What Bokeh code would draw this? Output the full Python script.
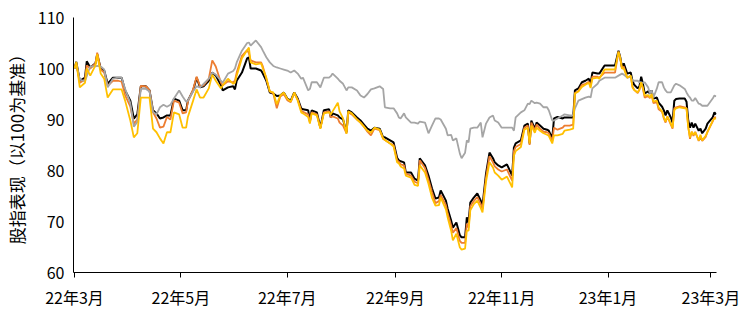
import pandas as pd
from bokeh.plotting import figure
from bokeh.models import FixedTicker, Range1d, ColumnDataSource
from bokeh.embed import file_html
from bokeh.resources import INLINE

start = pd.Timestamp("2022-03-01")

tick_dates = ["2022-03-01", "2022-05-01", "2022-07-01", "2022-09-01",
              "2022-11-01", "2023-01-01", "2023-03-01"]
tick_labels = ["22年3月", "22年5月", "22年7月", "22年9月", "22年11月", "23年1月", "23年3月"]
y_ticks = [60, 70, 80, 90, 100, 110]

# days after 2022-03-01
days = [0, 1, 3, 6, 7, 9, 12, 13, 15, 17,
        19, 22, 25, 27, 29, 32, 34, 36, 38, 41,
        43, 45, 47, 49, 51, 53, 55, 57, 60, 62,
        64, 65, 68, 70, 72, 74, 77, 79, 81, 84,
        85, 88, 91, 92, 93, 96, 99, 100, 101, 104,
        107, 108, 110, 112, 114, 116, 118, 120, 122, 124,
        126, 128, 130, 131, 134, 135, 136, 139, 141, 143,
        146, 147, 148, 151, 152, 154, 156, 157, 159, 162,
        164, 166, 168, 170, 172, 175, 177, 178, 181, 183,
        185, 186, 187, 189, 190, 193, 195, 197, 198, 201,
        203, 205, 207, 209, 210, 213, 214, 216, 217, 219,
        221, 222, 224, 225, 226, 227, 229, 231, 233, 234,
        236, 238, 240, 241, 243, 245, 248, 251, 252, 253,
        256, 258, 260, 261, 262, 264, 265, 267, 269, 271,
        272, 274, 275, 277, 280, 281, 284, 286, 287, 289,
        291, 293, 295, 296, 297, 300, 301, 304, 310, 312,
        313, 314, 315, 317, 319, 320, 321, 323, 324, 325,
        326, 327, 329, 330, 331, 332, 334, 335, 337, 338,
        339, 340, 342, 343, 344, 345, 347, 350, 351, 352,
        353, 354, 355, 356, 358, 359, 360, 362, 363, 366,
        367, 368]

black_s = [100, 101.3, 97.6, 98.2, 101.4, 100.2, 101, 102.8, 100, 99.6,
           97, 98.2, 98.2, 98.2, 95.7, 93.7, 90.2, 91, 96.5, 96.5,
           95.7, 91.8, 91.2, 90.2, 90.4, 90.8, 90.8, 94.1, 93.7, 91.8,
           91.8, 93.7, 95.7, 98.2, 96.3, 96.5, 97.6, 99.2, 98.6, 96.7,
           95.7, 96.3, 96.5, 95.9, 97.6, 99.2, 102, 102.2, 100, 100,
           99.6, 99, 97.6, 95.3, 95.1, 94.6, 94.7, 95.3, 94.1, 93.7,
           95.3, 94.1, 92.2, 92, 91.8, 89.8, 91.8, 91.4, 88.4, 91.8,
           92, 90.4, 91.2, 90.8, 90.4, 90, 87.5, 91.8, 91.4, 90.4,
           89.8, 89, 88.2, 87.8, 88.4, 88.2, 86.5, 86.5, 85.9, 85.5,
           82.5, 82, 81.8, 81.6, 79.6, 79.6, 78.4, 78, 82.4, 81,
           79, 76.5, 74.5, 74.7, 76.1, 74.1, 72.5, 70.2, 68.8, 69.8,
           67.3, 66.9, 66.9, 70.8, 69.8, 73.7, 74.7, 75.5, 74.1, 73.1,
           79.4, 83.5, 82.4, 81.6, 81, 80.6, 81.2, 79, 84.5, 85.3,
           85.9, 88.8, 89.2, 85.3, 89.8, 88.2, 89.4, 88.8, 88.2, 88,
           87.8, 86.3, 90.2, 90.5, 90.2, 90.4, 90.4, 90.4, 95.7, 96.1,
           97.3, 97.6, 98, 97, 99.2, 99, 99, 100.6, 100.6, 103.5,
           102.2, 100.2, 101, 99, 99.2, 97.6, 96.8, 96.1, 96.5, 98.4,
           97, 95.1, 95.5, 95.1, 95.7, 94.1, 94.3, 93.3, 92.5, 91.8,
           90.8, 91.8, 90.4, 89.4, 93.7, 94, 94.1, 94.1, 93.5, 89.8,
           88.4, 89.4, 88.4, 89.2, 87.8, 88.2, 87.3, 88.2, 89.2, 90.4,
           91.4, 91]

orange_s = [100, 101, 97.2, 97.8, 100.6, 100, 101, 103.1, 99.8, 99.2,
            96.6, 97.6, 97.6, 97.4, 94.8, 92.5, 89.2, 90, 96.6, 96.5,
            95.7, 91.4, 90.2, 88.4, 88.6, 90.5, 90, 93.7, 93.3, 91.2,
            91.4, 93.5, 95.9, 98.4, 96.5, 96.7, 98, 101.6, 100.4, 97.2,
            96.7, 97.5, 97.3, 97.6, 99.2, 102.5, 103.6, 103, 101.6, 101.2,
            101.2, 100.4, 98, 95.5, 95.1, 92.2, 94.5, 95, 93.8, 93.4,
            95.2, 93.9, 91.8, 91.5, 91, 89.4, 91.4, 91, 88.3, 91.4,
            91.6, 90.4, 90.6, 90.2, 89.4, 88.8, 87.3, 91.4, 91, 90,
            89.4, 88.6, 87.6, 86.9, 88.2, 87.9, 86.2, 86, 85.3, 85,
            82, 81.7, 81.2, 81, 79.4, 79, 77.8, 77.5, 82, 80.5,
            78.2, 75.8, 73.6, 74, 75.2, 73.2, 71.6, 69.2, 67.8, 68.7,
            66.2, 65.8, 65.8, 69.6, 68.8, 73, 74, 74.8, 73.4, 72.4,
            78.6, 82.8, 81.6, 80.8, 80.2, 79.8, 80.2, 78, 83.8, 84.6,
            85.2, 88.4, 88.8, 85, 89.4, 87.8, 89, 88.2, 87.6, 87.5,
            87.3, 85.8, 88.4, 88, 88.4, 88.8, 88.8, 89, 95.2, 95.6,
            96.8, 97, 97.4, 96.5, 98.4, 98.4, 98.2, 99.2, 99.2, 103.3,
            102, 100, 100.4, 98.2, 98.4, 96.5, 95.8, 95.2, 95.8, 97.2,
            96, 94.3, 94.6, 94.2, 94.8, 93.2, 93.4, 92, 91.5, 90.2,
            89.4, 90.6, 89, 88.2, 92.2, 92.4, 92.6, 92.4, 92.2, 88.6,
            86.2, 87.6, 86.8, 87.6, 85.8, 86.6, 85.8, 86.6, 87.6, 89.6,
            90.4, 90.4]

gold_s = [100, 101.3, 96.3, 97.2, 100, 98.6, 100.6, 102.8, 99, 98,
          94.3, 95.9, 95.9, 95.9, 93.7, 89.8, 86.5, 87.3, 94.3, 94.3,
          94.3, 88.2, 87.5, 86.3, 85.3, 87.5, 87.5, 91.4, 91, 88.4,
          88.4, 90.5, 93.7, 95.9, 94.3, 94.3, 96.1, 98.8, 97.6, 96.1,
          96.7, 98, 97, 97.2, 98.6, 102, 103.6, 104.1, 101.2, 100.8,
          101, 100, 98.2, 95.5, 95.3, 93, 94.7, 95.3, 94.1, 93.5,
          95.3, 93.7, 91.4, 91.2, 90.5, 89.2, 91.2, 90.8, 88.2, 91.2,
          91.4, 91, 91.6, 93.3, 91.6, 90.2, 87.2, 91.6, 91.2, 90,
          89.4, 88.6, 87.8, 87.4, 88.4, 88, 86.3, 86, 85.3, 84.7,
          81.6, 81.4, 80.8, 80.4, 79, 78.6, 77.2, 77, 81, 79.6,
          77.4, 74.7, 73.1, 73.2, 74.7, 72.4, 70.8, 68.2, 66.3, 67.6,
          64.9, 64.5, 64.7, 68.2, 68.2, 72.2, 73.4, 74.1, 72.6, 71.8,
          77.8, 81.6, 80.6, 79.6, 79, 78.2, 78.8, 76.7, 82.9, 83.8,
          84.6, 88, 88.4, 85.3, 88.8, 87.4, 88.4, 87.8, 87.3, 87,
          86.8, 85.3, 86.9, 86.9, 87.2, 87.8, 88, 88.2, 95.1, 95.5,
          96.4, 96.8, 97.2, 96.2, 98, 98.2, 98, 99.8, 99.8, 103.3,
          102, 100, 100, 98.2, 98.6, 96.3, 95.8, 95.3, 96, 97.3,
          96.2, 94.7, 94.8, 94.3, 95, 93.5, 93.7, 92.4, 91.6, 90.4,
          89.6, 90.6, 89.2, 88.4, 91.8, 92.2, 92.4, 92.2, 92.2, 88.4,
          86.5, 87.6, 87, 87.5, 85.9, 87, 85.9, 86.8, 87.5, 89.8,
          90.2, 90.2]

gray_s = [100, 100.8, 97.8, 97.5, 98.5, 100.4, 100.4, 100.5, 100.4, 99.8,
          96.3, 98, 98.2, 98.2, 96, 93.2, 88.6, 89.5, 96, 96,
          95.5, 91.5, 91, 92.4, 92.9, 92.5, 92.9, 94.1, 95.7, 94.5,
          93.5, 93.7, 95.5, 96.5, 96.3, 97, 98, 99.2, 98.8, 97.6,
          97.2, 99, 99.5, 100, 101.2, 103.5, 105, 105.1, 104.5, 105.5,
          104.2, 103.5, 102.2, 101.2, 100.5, 100.2, 100, 99.8, 99.6, 99.2,
          99.6, 99, 98, 98.2, 95.7, 96, 97.3, 97.3, 96.3, 98.2,
          98.2, 98.5, 99, 98, 97.6, 97, 95.7, 96.3, 96.3, 95.7,
          94.7, 94.3, 95, 95.9, 96.1, 96.5, 96, 92.4, 92.2, 92.2,
          91.2, 90.4, 90.2, 91.2, 90.4, 89.4, 89.4, 89.2, 89.6, 89.4,
          87.3, 88.8, 90.2, 90.2, 90, 88.2, 86.9, 87, 85.9, 86.3,
          83.3, 82.4, 83.5, 85.9, 85.5, 88.2, 88.4, 88.4, 89.4, 86.5,
          89.2, 90.4, 90.8, 89.8, 89.4, 88.4, 88.4, 88.4, 87.8, 90.4,
          91.4, 91.8, 93.1, 93, 93.7, 93.2, 93.3, 93.1, 92.4, 92.4,
          91.8, 89.8, 89.8, 90.2, 90.8, 91, 90.8, 90.8, 92.2, 93.7,
          94, 94.3, 94.5, 94.3, 96.1, 97, 97.6, 98.2, 98.2, 98.6,
          98.8, 99, 98.8, 98.2, 98.5, 97.6, 97.6, 97.6, 97.3, 97.3,
          97.2, 97.3, 96.3, 95.1, 95.7, 94.3, 96.1, 97.3, 97.3, 96.3,
          95.7, 95.3, 95.3, 96, 96.7, 97, 96.7, 96, 95.3, 94.7,
          94.3, 93.7, 93.7, 94.2, 93.1, 93, 92.7, 92.7, 92.7, 94.1,
          94.7, 94.5]

src = ColumnDataSource(dict(x=days, black=black_s, orange=orange_s, gold=gold_s, gray=gray_s))
tick_days = [(pd.Timestamp(t) - start).days for t in tick_dates]

FONT = "Noto Sans CJK SC"

p = figure(width=748, height=312, output_backend="svg", toolbar_location=None,
           x_range=Range1d(-0.6, 368.2), y_range=Range1d(60, 110),
           min_border_left=73, min_border_right=32, min_border_top=17, min_border_bottom=40)
p.outline_line_color = None
p.xgrid.visible = False
p.ygrid.visible = False
p.background_fill_color = "white"
p.border_fill_color = "white"

p.line("x", "black", source=src, line_color="#000000", line_width=2)
p.line("x", "orange", source=src, line_color="#ED7D31", line_width=1.8)
p.line("x", "gray", source=src, line_color="#A5A5A5", line_width=1.8)
p.line("x", "gold", source=src, line_color="#FFC000", line_width=1.8)

xa = p.xaxis[0]
xa.ticker = FixedTicker(ticks=tick_days)
xa.major_label_overrides = {d: l for d, l in zip(tick_days, tick_labels)}
xa.minor_tick_line_color = None
xa.major_tick_in = 0
xa.major_tick_out = 5
xa.major_tick_line_color = "black"
xa.axis_line_color = "black"
xa.axis_line_width = 1
xa.major_label_text_font = FONT
xa.major_label_text_font_size = "16px"
xa.major_label_text_color = "black"
xa.major_label_standoff = 7

ya = p.yaxis[0]
ya.ticker = FixedTicker(ticks=y_ticks)
ya.minor_tick_line_color = None
ya.major_tick_in = 0
ya.major_tick_out = 0
ya.axis_line_color = "black"
ya.axis_line_width = 1
ya.major_label_text_font = FONT
ya.major_label_text_font_size = "16px"
ya.major_label_text_color = "black"
ya.major_label_standoff = 9
ya.axis_label = "股指表现（以100为基准）"
ya.axis_label_text_font = FONT
ya.axis_label_text_font_size = "17px"
ya.axis_label_text_font_style = "normal"
ya.axis_label_text_color = "black"
ya.axis_label_standoff = 6

open("out.html", "w").write(file_html(p, INLINE))
